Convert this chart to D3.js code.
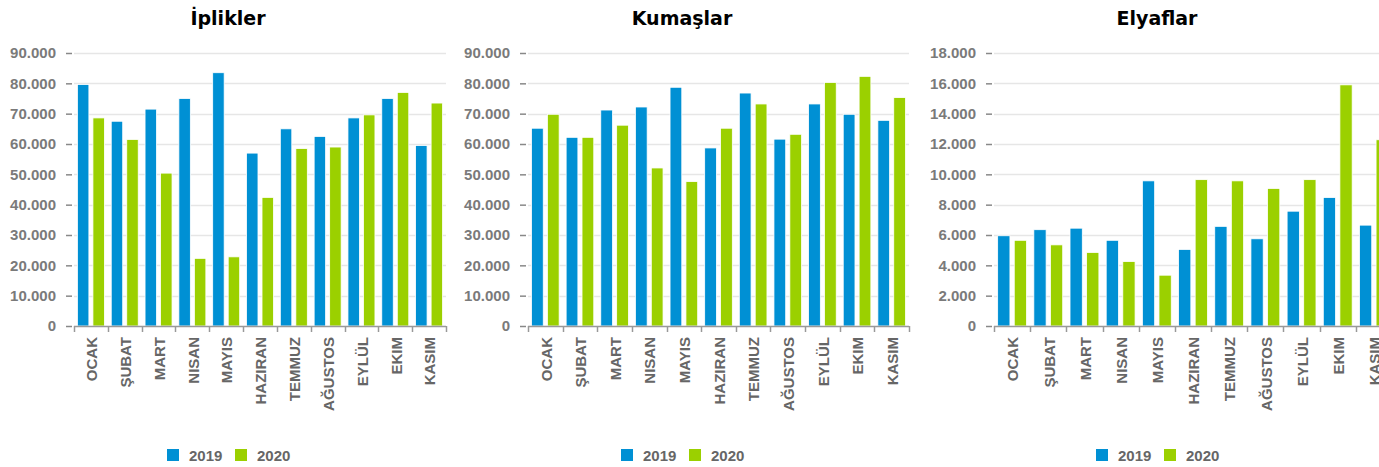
<!DOCTYPE html>
<html>
<head>
  <meta charset="utf-8">
  <title>İplik / Kumaş / Elyaf</title>
  <style>
   html, body { margin: 0; padding: 0; background: #fff; }
   #chart { width: 1379px; height: 467px; overflow: hidden; }
   .title { font-family: "DejaVu Sans", Verdana, sans-serif; font-weight: bold; font-size: 19px; fill: #000; }
   .ylab { font-family: "Liberation Sans", Arial, sans-serif; font-weight: bold; font-size: 15px; fill: #7a7a7a; }
   .xlab { font-family: "Liberation Sans", Arial, sans-serif; font-weight: bold; font-size: 15px; fill: #666; }
   .leg { font-family: "Liberation Sans", Arial, sans-serif; font-weight: bold; font-size: 15px; fill: #666; }
  </style>
</head>
<body>
  <div id="chart"></div>
  <script src="https://d3js.org/d3.v7.min.js"></script>
  <script>
// data
var months = ["OCAK", "ŞUBAT", "MART", "NISAN", "MAYIS", "HAZIRAN", "TEMMUZ", "AĞUSTOS", "EYLÜL", "EKIM", "KASIM"];
var years = ["2019", "2020"];
var colors = ["#0090d4", "#9bd000"];

var iplik2019 = [79600, 67500, 71500, 75000, 83500, 57000, 65000, 62500, 68600, 75000, 59500];
var iplik2020 = [68600, 61500, 50400, 22300, 22800, 42400, 58500, 59000, 69600, 77000, 73500];

var kumas2019 = [65200, 62200, 71200, 72200, 78700, 58700, 76800, 61600, 73200, 69800, 67800];
var kumas2020 = [69800, 62200, 66200, 52100, 47600, 65200, 73200, 63200, 80300, 82300, 75300];

var elyaf2019 = [5950, 6350, 6450, 5650, 9570, 5050, 6570, 5750, 7570, 8470, 6650];
var elyaf2020 = [5650, 5350, 4850, 4250, 3350, 9650, 9570, 9070, 9650, 15900, 12280];

var iplikTicks = [0, 10000, 20000, 30000, 40000, 50000, 60000, 70000, 80000, 90000];
var elyafTicks = [0, 2000, 4000, 6000, 8000, 10000, 12000, 14000, 16000, 18000];

// layout of the three panels
var panels = [
  {title: "İplikler", s2019: iplik2019, s2020: iplik2020, ticks: iplikTicks, left: 74, right: 446, cx: 228},
  {title: "Kumaşlar", s2019: kumas2019, s2020: kumas2020, ticks: iplikTicks, left: 528, right: 909, cx: 682},
  {title: "Elyaflar", s2019: elyaf2019, s2020: elyaf2020, ticks: elyafTicks, left: 994, right: 1392, cx: 1157}
];

var plotTop = 53, plotBottom = 326;

var fmt = d3.formatLocale({decimal: ",", thousands: ".", grouping: [3], currency: ["", ""]}).format(",d");

var svg = d3.select("#chart")
  .append("svg")
  .attr("width", 1379)
  .attr("height", 467);

panels.forEach(function(p) {
  var g = svg.append("g");

  var x0 = d3.scaleBand().domain(months).range([p.left, p.right]).padding(0);
  var x1 = d3.scaleBand().domain(years).range([0, x0.bandwidth()])
    .paddingInner(0.26).paddingOuter(0.22);
  var y = d3.scaleLinear().domain([0, d3.max(p.ticks)]).range([plotBottom, plotTop]);

  // title
  g.append("text")
    .attr("class", "title")
    .attr("x", p.cx)
    .attr("y", 25)
    .attr("text-anchor", "middle")
    .text(p.title);

  // grid lines
  g.selectAll(".grid")
    .data(p.ticks.slice(1))
    .enter()
    .append("line")
    .attr("x1", p.left)
    .attr("x2", p.right)
    .attr("y1", function(d) { return Math.round(y(d)) + 0.5; })
    .attr("y2", function(d) { return Math.round(y(d)) + 0.5; })
    .attr("stroke", "#e6e6e6")
    .attr("stroke-width", 1.5);

  // y axis (ticks + labels, no line)
  var yAxis = d3.axisLeft(y)
    .tickValues(p.ticks)
    .tickSize(6)
    .tickPadding(10)
    .tickFormat(function(d) { return d === 0 ? "0" : fmt(d); });
  var ya = g.append("g")
    .attr("transform", "translate(" + (p.left - 2) + ",0)")
    .call(yAxis);
  ya.select(".domain").remove();
  ya.selectAll("line").attr("stroke", "#888").attr("stroke-width", 1.5);
  ya.selectAll("text").attr("class", "ylab").attr("font-family", null).attr("font-size", null).attr("fill", null);
  ya.attr("font-family", null).attr("font-size", null);

  // bars
  var rows = months.map(function(m, i) {
    return {month: m, values: [p.s2019[i], p.s2020[i]]};
  });
  var grp = g.selectAll(".month")
    .data(rows)
    .enter()
    .append("g")
    .attr("transform", function(d) { return "translate(" + x0(d.month) + ",0)"; });
  grp.selectAll("rect")
    .data(function(d) { return d.values.map(function(v, k) { return {year: years[k], value: v, k: k}; }); })
    .enter()
    .append("rect")
    .attr("x", function(d) { return x1(d.year); })
    .attr("width", x1.bandwidth())
    .attr("y", function(d) { return y(d.value); })
    .attr("height", function(d) { return plotBottom - y(d.value); })
    .attr("fill", function(d) { return colors[d.k]; })
    .attr("stroke", "#ffffff")
    .attr("stroke-width", 0.8);

  // x axis line and ticks
  g.append("line")
    .attr("x1", p.left)
    .attr("x2", p.right)
    .attr("y1", plotBottom + 0.5)
    .attr("y2", plotBottom + 0.5)
    .attr("stroke", "#999")
    .attr("stroke-width", 1.5);
  var edges = months.map(function(m) { return x0(m); }).concat([p.right]);
  g.selectAll(".xtick")
    .data(edges)
    .enter()
    .append("line")
    .attr("x1", function(d) { return Math.round(d) + 0.5; })
    .attr("x2", function(d) { return Math.round(d) + 0.5; })
    .attr("y1", plotBottom)
    .attr("y2", plotBottom + 6)
    .attr("stroke", "#999")
    .attr("stroke-width", 1.5);

  // category labels, rotated
  g.selectAll(".xlab")
    .data(months)
    .enter()
    .append("text")
    .attr("class", "xlab")
    .attr("text-anchor", "end")
    .attr("dy", "0.35em")
    .attr("transform", function(d) {
      return "translate(" + (x0(d) + x0.bandwidth() / 2 + 1) + "," + 337 + ") rotate(-90)";
    })
    .text(function(d) { return d; });

  // legend
  var leg = g.append("g").attr("transform", "translate(" + (p.cx - 61) + ",449)");
  years.forEach(function(yr, k) {
    leg.append("rect")
      .attr("x", k * 68)
      .attr("y", 0)
      .attr("width", 12)
      .attr("height", 12)
      .attr("fill", colors[k]);
    leg.append("text")
      .attr("class", "leg")
      .attr("x", k * 68 + 22)
      .attr("y", 12)
      .text(yr);
  });
});
  </script>
</body>
</html>
